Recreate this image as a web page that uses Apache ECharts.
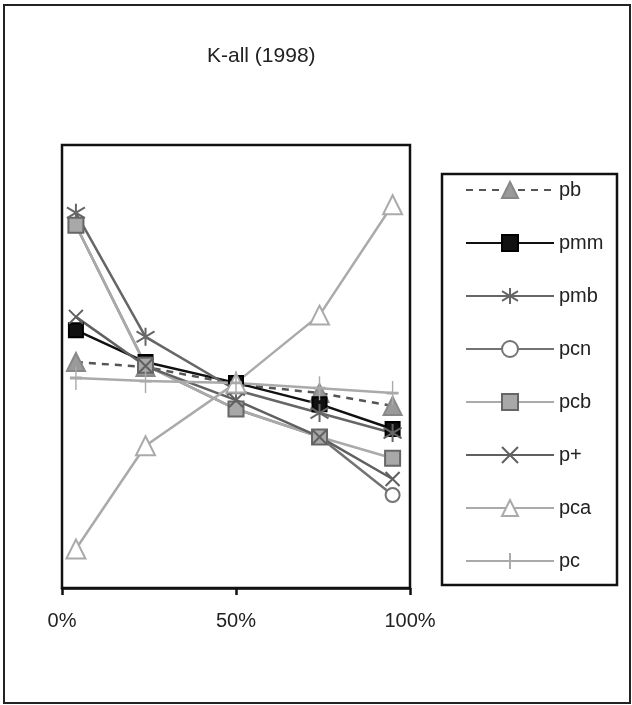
<!DOCTYPE html>
<html>
<head>
<meta charset="utf-8">
<script src="https://cdn.jsdelivr.net/npm/echarts@6/dist/echarts.min.js"></script>
<style>
  html, body { margin: 0; padding: 0; background: #fff; }
  #chart { width: 632px; height: 705px; }
</style>
</head>
<body>
<div id="chart"></div>
<script>
// Position along the distribution (%), shared by all series
const shares = [4, 24, 50, 74, 95];

// Index values per series (relative scale, axis hidden)
const pb  = [51.0, 49.9, 46.0, 44.0, 41.1];
const pmm = [58.2, 51.0, 46.3, 41.5, 35.9];
const pmb = [84.7, 56.7, 44.7, 39.5, 35.0];
const pcn = [81.9, 50.3, 40.4, 34.1, 21.0];
const pcb = [81.9, 50.3, 40.4, 34.1, 29.3];
const pPlus = [61.2, 50.1, 42.4, 34.1, 24.6];
const pca = [8.8, 32.1, 46.3, 61.6, 86.5];
const pc  = [47.4, 46.7, 46.3, 45.1, 44.0];

const xTicks = [0, 50, 100];
const seriesNames = ['pb', 'pmm', 'pmb', 'pcn', 'pcb', 'p+', 'pca', 'pc'];

const FONT = 'Liberation Sans, Arial, sans-serif';

const pairs = vals => vals.map((v, i) => [shares[i], v]);

const asterisk = 'path://M2,4L18,16M18,4L2,16M10,0L10,20';
const cross = 'path://M0,0L20,20M20,0L0,20';
const plus = 'path://M6,0L6,24M0,12L12,12';

function lineSeries(name, vals, o) {
  return {
    name: name,
    type: 'line',
    data: pairs(vals),
    symbol: o.symbol,
    symbolSize: o.size,
    showAllSymbol: true,
    lineStyle: { color: o.color, width: 2.5, type: o.dash || 'solid' },
    itemStyle: {
      color: o.fill || o.color,
      borderColor: o.border || o.color,
      borderWidth: o.bw || 2
    },
    emphasis: { disabled: true },
    animation: false
  };
}

const chart = echarts.init(document.getElementById('chart'), null, { renderer: 'canvas' });

chart.setOption({
  backgroundColor: '#fff',
  animation: false,
  title: {
    text: 'K-all (1998)',
    left: 202,
    top: 41,
    textStyle: { fontFamily: FONT, fontSize: 21, fontWeight: 'normal', color: '#222' }
  },
  grid: {
    left: 62, right: 222, top: 145, bottom: 117,
    show: true, borderColor: '#111', borderWidth: 2.5, backgroundColor: 'transparent'
  },
  xAxis: {
    type: 'value',
    min: xTicks[0],
    max: xTicks[xTicks.length - 1],
    interval: xTicks[1] - xTicks[0],
    axisLine: { show: true, lineStyle: { color: '#111', width: 2.5 } },
    axisTick: { show: true, inside: false, length: 7, lineStyle: { color: '#111', width: 2.5 } },
    axisLabel: {
      formatter: '{value}%', margin: 23,
      fontFamily: FONT, fontSize: 20, color: '#222'
    },
    splitLine: { show: false }
  },
  yAxis: {
    type: 'value', min: 0, max: 100,
    axisLine: { show: false }, axisTick: { show: false },
    axisLabel: { show: false }, splitLine: { show: false }
  },
  legend: {
    data: seriesNames,
    orient: 'vertical',
    left: 442,
    top: 176,
    padding: [0, 0, 0, 23],
    itemWidth: 88,
    itemHeight: 20,
    itemGap: 25,
    selectedMode: false,
    textStyle: {
      fontFamily: FONT, fontSize: 20, color: '#222',
      lineHeight: 20, padding: [0, 0, 8, 0]
    }
  },
  graphic: [
    {
      type: 'rect', silent: true, z: 100,
      shape: { x: 4, y: 5, width: 626, height: 698 },
      style: { fill: 'none', stroke: '#222', lineWidth: 2 }
    },
    {
      type: 'rect', silent: true, z: 100,
      shape: { x: 442, y: 174, width: 175, height: 411 },
      style: { fill: 'none', stroke: '#111', lineWidth: 2.5 }
    }
  ],
  series: [
    lineSeries('pb', pb, { symbol: 'triangle', size: 18, color: '#555', fill: '#9a9a9a', border: '#888', dash: [7, 6] }),
    lineSeries('pmm', pmm, { symbol: 'rect', size: 14, color: '#111', fill: '#111', border: '#000' }),
    lineSeries('pmb', pmb, { symbol: asterisk, size: 18, color: '#666' }),
    lineSeries('pcn', pcn, { symbol: 'emptyCircle', size: 14, color: '#737373' }),
    lineSeries('pcb', pcb, { symbol: 'rect', size: 15, color: '#aaa', fill: '#a8a8a8', border: '#666' }),
    lineSeries('p+', pPlus, { symbol: cross, size: 14, color: '#606060' }),
    lineSeries('pca', pca, { symbol: 'emptyTriangle', size: 19, color: '#aaa' }),
    lineSeries('pc', pc, { symbol: plus, size: [12, 24], color: '#aaa' })
  ]
});
</script>
</body>
</html>
